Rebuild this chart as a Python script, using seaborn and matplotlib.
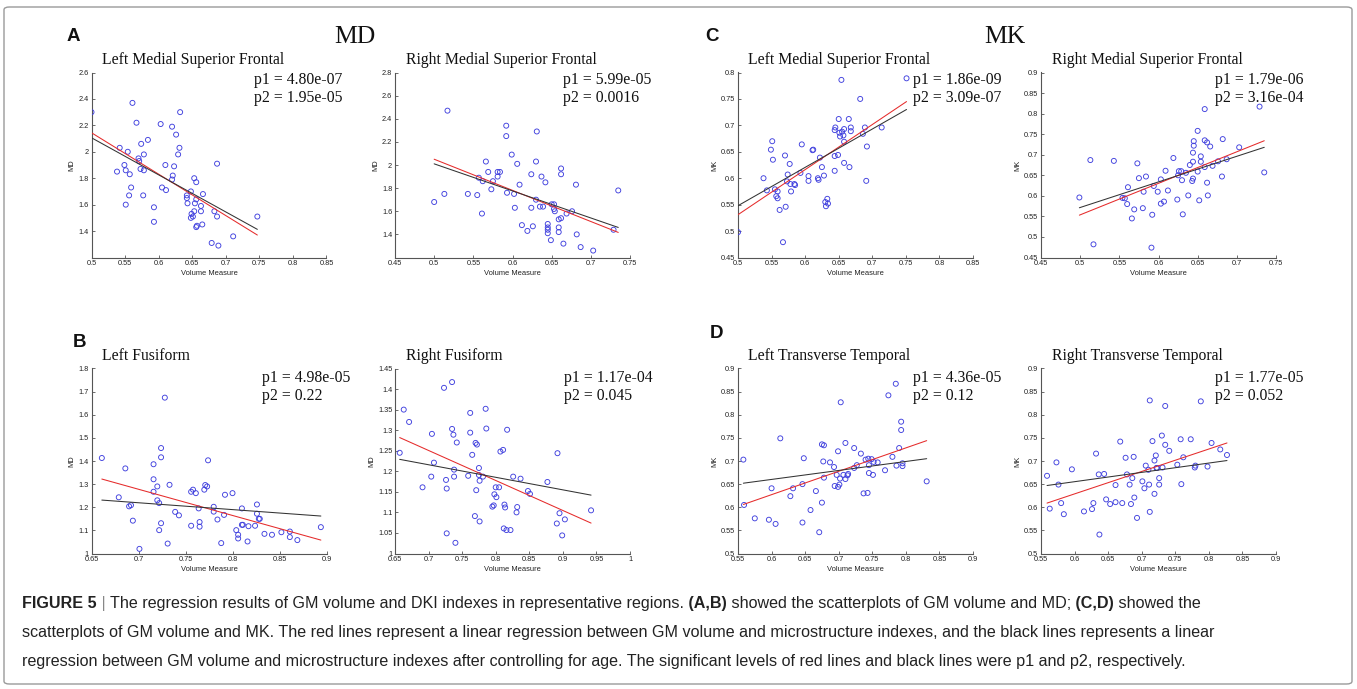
import numpy as np
import matplotlib
matplotlib.use("Agg")
import matplotlib.pyplot as plt
import seaborn as sns
from matplotlib.patches import FancyBboxPatch

# ---------------- data ----------------
a_left_x = [0.500,0.561,0.567,0.542,0.538,0.549,0.551,0.554,0.557,0.559,0.556,0.551,0.570,0.571,0.574,0.578,0.573,0.578,0.584,0.577,
            0.593,0.593,0.603,0.620,0.626,0.632,0.631,0.629,0.623,0.610,0.621,0.620,0.605,0.611,0.687,0.653,0.656,0.642,0.642,0.643,
            0.648,0.666,0.663,0.656,0.654,0.653,0.663,0.649,0.648,0.651,0.657,0.656,0.665,0.683,0.687,0.679,0.689,0.711,0.747]
a_left_y = [2.30,2.37,2.22,2.03,1.85,1.90,1.86,2.00,1.83,1.73,1.67,1.60,1.95,1.93,2.06,1.98,1.87,1.86,2.09,1.67,
            1.58,1.47,2.21,2.19,2.13,2.30,2.03,1.98,1.89,1.90,1.82,1.79,1.73,1.71,1.91,1.80,1.77,1.67,1.65,1.61,
            1.70,1.68,1.59,1.64,1.61,1.55,1.55,1.53,1.50,1.51,1.44,1.43,1.45,1.55,1.51,1.31,1.29,1.36,1.51]
a_left_red = [2.144, 1.370]
a_left_black = [2.106, 1.413]

a_right_x = [0.500,0.513,0.517,0.543,0.555,0.557,0.561,0.562,0.566,0.569,0.573,0.575,0.581,0.581,0.584,0.592,0.592,0.593,0.599,0.602,
             0.606,0.603,0.609,0.612,0.619,0.626,0.624,0.624,0.630,0.630,0.631,0.635,0.637,0.639,0.642,0.645,0.645,0.645,0.645,0.649,
             0.650,0.653,0.653,0.654,0.659,0.659,0.659,0.662,0.662,0.662,0.665,0.669,0.676,0.681,0.682,0.687,0.703,0.729,0.735]
a_right_y = [1.68,1.75,2.47,1.75,1.74,1.89,1.58,1.86,2.03,1.94,1.79,1.86,1.94,1.90,1.94,2.25,2.34,1.76,2.09,1.75,
             2.01,1.63,1.83,1.48,1.43,1.47,1.63,1.92,1.70,2.03,2.29,1.64,1.90,1.64,1.85,1.49,1.46,1.44,1.41,1.35,
             1.66,1.66,1.62,1.60,1.53,1.46,1.42,1.54,1.97,1.92,1.32,1.58,1.60,1.83,1.40,1.29,1.26,1.44,1.78]
a_right_red = [2.050, 1.417]
a_right_black = [2.010, 1.460]

c_left_x = [0.500,0.538,0.543,0.551,0.549,0.552,0.555,0.557,0.559,0.559,0.562,0.567,0.570,0.571,0.573,0.574,0.577,0.578,0.579,0.584,
            0.585,0.593,0.595,0.605,0.605,0.611,0.612,0.619,0.620,0.622,0.625,0.628,0.630,0.633,0.634,0.631,0.644,0.645,0.644,0.644,
            0.649,0.650,0.651,0.652,0.654,0.655,0.657,0.658,0.658,0.658,0.665,0.666,0.668,0.668,0.682,0.686,0.689,0.692,0.691,0.714,0.751]
c_left_y = [0.498,0.600,0.577,0.670,0.654,0.635,0.579,0.566,0.575,0.562,0.540,0.479,0.643,0.546,0.594,0.607,0.627,0.589,0.575,0.589,
            0.587,0.610,0.664,0.604,0.595,0.653,0.654,0.600,0.597,0.639,0.621,0.605,0.555,0.561,0.552,0.547,0.691,0.696,0.614,0.642,
            0.644,0.712,0.686,0.679,0.786,0.688,0.681,0.693,0.669,0.629,0.712,0.621,0.696,0.689,0.750,0.684,0.696,0.660,0.595,0.696,0.789]
c_left_red = [0.531, 0.745]
c_left_black = [0.548, 0.730]

c_right_x = [0.499,0.513,0.517,0.543,0.554,0.557,0.561,0.560,0.566,0.569,0.573,0.575,0.580,0.581,0.584,0.592,0.591,0.594,0.599,0.603,
             0.603,0.607,0.609,0.612,0.619,0.624,0.625,0.626,0.629,0.630,0.631,0.635,0.638,0.640,0.643,0.644,0.644,0.644,0.645,0.645,
             0.650,0.650,0.652,0.654,0.654,0.659,0.659,0.659,0.662,0.662,0.663,0.666,0.669,0.676,0.681,0.682,0.687,0.703,0.729,0.735]
c_right_y = [0.596,0.687,0.482,0.685,0.595,0.594,0.621,0.580,0.545,0.567,0.679,0.643,0.570,0.610,0.647,0.554,0.474,0.624,0.610,0.640,
             0.581,0.586,0.661,0.613,0.692,0.591,0.650,0.660,0.660,0.638,0.555,0.656,0.601,0.675,0.636,0.642,0.705,0.683,0.733,0.722,
             0.758,0.659,0.589,0.696,0.683,0.811,0.670,0.735,0.730,0.632,0.601,0.720,0.673,0.684,0.647,0.738,0.689,0.718,0.817,0.657]
c_right_red = [0.553, 0.734]
c_right_black = [0.571, 0.718]

b_left_x = [0.661,0.679,0.686,0.690,0.692,0.694,0.701,0.716,0.716,0.716,0.720,0.720,0.722,0.722,0.724,0.724,0.724,0.728,0.731,0.733,
            0.739,0.743,0.756,0.756,0.758,0.761,0.764,0.765,0.765,0.770,0.771,0.773,0.774,0.780,0.780,0.784,0.788,0.791,0.792,0.800,
            0.804,0.806,0.806,0.810,0.810,0.811,0.816,0.817,0.824,0.826,0.826,0.828,0.829,0.834,0.842,0.852,0.861,0.861,0.869,0.894]
b_left_y = [1.413,1.243,1.368,1.204,1.209,1.142,1.020,1.267,1.321,1.386,1.290,1.230,1.218,1.101,1.416,1.456,1.131,1.674,1.043,1.297,
            1.180,1.165,1.120,1.267,1.276,1.261,1.195,1.136,1.116,1.276,1.296,1.290,1.403,1.202,1.181,1.147,1.045,1.167,1.254,1.261,
            1.101,1.081,1.065,1.195,1.124,1.124,1.052,1.118,1.120,1.212,1.172,1.150,1.150,1.085,1.081,1.092,1.095,1.071,1.058,1.114]
b_left_red = [1.322, 1.058]
b_left_black = [1.231, 1.162]

b_right_x = [0.657,0.663,0.671,0.691,0.704,0.705,0.708,0.723,0.726,0.727,0.727,0.735,0.735,0.737,0.738,0.738,0.740,0.742,0.759,0.762,
             0.762,0.765,0.769,0.770,0.771,0.772,0.775,0.775,0.776,0.776,0.781,0.785,0.786,0.795,0.797,0.798,0.800,0.801,0.805,0.807,
             0.811,0.817,0.812,0.813,0.814,0.816,0.822,0.826,0.831,0.832,0.837,0.848,0.851,0.877,0.891,0.892,0.895,0.899,0.903,0.942]
b_right_y = [1.245,1.350,1.320,1.161,1.187,1.291,1.221,1.403,1.179,1.158,1.049,1.417,1.303,1.289,1.204,1.187,1.026,1.270,1.189,1.342,
             1.294,1.240,1.091,1.269,1.154,1.265,1.208,1.191,1.078,1.177,1.187,1.352,1.304,1.114,1.117,1.144,1.161,1.137,1.161,1.248,
             1.252,1.301,1.061,1.119,1.112,1.057,1.057,1.187,1.100,1.113,1.182,1.152,1.145,1.174,1.073,1.244,1.098,1.044,1.083,1.105]
b_right_red = [1.282, 1.074]
b_right_black = [1.229, 1.142]

d_left_x = [0.558,0.559,0.575,0.596,0.600,0.606,0.613,0.628,0.632,0.646,0.646,0.648,0.658,0.666,0.671,0.675,0.675,0.678,0.677,0.678,
            0.687,0.693,0.694,0.697,0.699,0.699,0.701,0.702,0.703,0.707,0.710,0.710,0.713,0.714,0.723,0.723,0.727,0.733,0.737,0.740,
            0.743,0.744,0.745,0.745,0.749,0.751,0.752,0.758,0.769,0.774,0.780,0.785,0.786,0.790,0.793,0.793,0.795,0.795,0.831]
d_left_y = [0.703,0.605,0.576,0.573,0.641,0.564,0.749,0.624,0.641,0.650,0.567,0.706,0.594,0.635,0.546,0.610,0.736,0.734,0.699,0.664,
            0.697,0.687,0.646,0.670,0.721,0.644,0.649,0.662,0.827,0.670,0.739,0.661,0.669,0.672,0.728,0.685,0.691,0.716,0.630,0.703,
            0.631,0.705,0.691,0.674,0.704,0.670,0.698,0.697,0.680,0.842,0.709,0.867,0.690,0.728,0.785,0.767,0.695,0.689,0.656]
d_left_red = [0.606, 0.744]
d_left_black = [0.652, 0.705]

d_right_x = [0.559,0.563,0.573,0.576,0.580,0.584,0.596,0.614,0.626,0.628,0.632,0.636,0.637,0.644,0.647,0.653,0.661,0.661,0.668,0.671,
             0.676,0.678,0.682,0.684,0.686,0.688,0.689,0.693,0.701,0.704,0.706,0.710,0.711,0.712,0.712,0.716,0.719,0.719,0.721,0.722,
             0.723,0.726,0.726,0.730,0.731,0.735,0.735,0.741,0.753,0.758,0.759,0.762,0.773,0.779,0.780,0.788,0.798,0.804,0.817,0.827]
d_right_y = [0.668,0.597,0.697,0.649,0.609,0.585,0.682,0.591,0.596,0.609,0.716,0.671,0.541,0.672,0.617,0.607,0.648,0.611,0.742,0.609,
             0.707,0.671,0.649,0.607,0.663,0.709,0.621,0.577,0.656,0.641,0.690,0.681,0.649,0.831,0.590,0.743,0.701,0.629,0.712,0.685,
             0.685,0.663,0.649,0.755,0.686,0.819,0.735,0.722,0.692,0.747,0.650,0.708,0.747,0.686,0.690,0.829,0.688,0.739,0.725,0.713]
d_right_red = [0.609, 0.739]
d_right_black = [0.647, 0.701]

titles = ["Left Medial Superior Frontal", "Right Medial Superior Frontal",
          "Left Medial Superior Frontal", "Right Medial Superior Frontal",
          "Left Fusiform", "Right Fusiform",
          "Left Transverse Temporal", "Right Transverse Temporal"]
ylabels = ["MD", "MD", "MK", "MK", "MD", "MD", "MK", "MK"]
p1_labels = ["4.80e-07", "5.99e-05", "1.86e-09", "1.79e-06", "4.98e-05", "1.17e-04", "4.36e-05", "1.77e-05"]
p2_labels = ["1.95e-05", "0.0016", "3.09e-07", "3.16e-04", "0.22", "0.045", "0.12", "0.052"]
xlims = [(0.5, 0.85), (0.45, 0.75), (0.5, 0.85), (0.45, 0.75), (0.65, 0.9), (0.65, 1.0), (0.55, 0.9), (0.55, 0.9)]
ylims = [(1.2, 2.6), (1.2, 2.8), (0.45, 0.8), (0.45, 0.9), (1.0, 1.8), (1.0, 1.45), (0.5, 0.9), (0.5, 0.9)]
xsteps = [0.05] * 8
ysteps = [0.2, 0.2, 0.05, 0.05, 0.1, 0.05, 0.05, 0.05]
ytick_start = [1.4, 1.4, 0.45, 0.45, 1.0, 1.0, 0.5, 0.5]
panel_letters = ["A", "B", "C", "D"]
group_titles = ["MD", "MK"]
xlabel_text = "Volume Measure"

xs = [a_left_x, a_right_x, c_left_x, c_right_x, b_left_x, b_right_x, d_left_x, d_right_x]
ys = [a_left_y, a_right_y, c_left_y, c_right_y, b_left_y, b_right_y, d_left_y, d_right_y]
reds = [a_left_red, a_right_red, c_left_red, c_right_red, b_left_red, b_right_red, d_left_red, d_right_red]
blacks = [a_left_black, a_right_black, c_left_black, c_right_black, b_left_black, b_right_black, d_left_black, d_right_black]

caption_lines = [
    [("FIGURE 5", True), (" | ", False), ("The regression results of GM volume and DKI indexes in representative regions.", False),
     (" (A,B)", True), (" showed the scatterplots of GM volume and MD;", False), (" (C,D)", True), (" showed the", False)],
    [("scatterplots of GM volume and MK. The red lines represent a linear regression between GM volume and microstructure indexes, and the black lines represents a linear", False)],
    [("regression between GM volume and microstructure indexes after controlling for age. The significant levels of red lines and black lines were p1 and p2, respectively.", False)],
]

# ---------------- style ----------------
sns.set_theme(style="white")
plt.rcParams['font.family'] = ['Liberation Sans', 'DejaVu Sans']
SERIF = ['Liberation Serif', 'DejaVu Serif']

W, H = 1357, 689
fig = plt.figure(figsize=(W / 100, H / 100), dpi=100)

def fx(px):
    return px / W

def fy(py):
    return 1 - py / H

col_left = [91.5, 395, 738, 1041]
ax_w = 235
row_top = [72.5, 368.5]
ax_h = 185
p_off = [163, 168, 175, 174, 170, 169, 175, 174]

MARK = '#4040de'
AXC = '#555555'

def fmt(v):
    return format(round(v, 4), 'g')

for i in range(8):
    r = i // 4
    c = i % 4
    left = col_left[c]
    top = row_top[r]
    ax = fig.add_axes([fx(left), fy(top + ax_h), fx(ax_w), ax_h / H])
    sns.scatterplot(x=xs[i], y=ys[i], ax=ax, marker='o', s=13, color=MARK,
                    facecolor='none', edgecolor=MARK, linewidth=0.65, zorder=3)
    xe = [min(xs[i]), max(xs[i])]
    sns.lineplot(x=xe, y=reds[i], ax=ax, color='#e52b2b', linewidth=0.75, zorder=4)
    sns.lineplot(x=xe, y=blacks[i], ax=ax, color='#333333', linewidth=0.75, zorder=4)
    ax.set_xlim(*xlims[i])
    ax.set_ylim(*ylims[i])
    xt = np.arange(xlims[i][0], xlims[i][1] + 1e-9, xsteps[i])
    yt = np.arange(ytick_start[i], ylims[i][1] + 1e-9, ysteps[i])
    ax.set_xticks(xt)
    ax.set_xticklabels([fmt(v) for v in xt])
    ax.set_yticks(yt)
    ax.set_yticklabels([fmt(v) for v in yt])
    for s in ['top', 'right']:
        ax.spines[s].set_visible(False)
    for s in ['left', 'bottom']:
        ax.spines[s].set_color(AXC)
        ax.spines[s].set_linewidth(0.8)
    ax.tick_params(direction='in', length=2.5, width=0.6, color=AXC, labelsize=5.3,
                   labelcolor='#222222', pad=2, left=True, bottom=True)
    ax.set_xlabel(xlabel_text, fontsize=5.4, color='#222222', labelpad=2)
    ax.set_ylabel(ylabels[i], fontsize=5.4, color='#222222', labelpad=2)
    ax.set_facecolor('white')
    # title
    tb = top - 8.5
    fig.text(fx(left + 10.5), fy(tb), titles[i], family=SERIF, fontsize=11.3,
             ha='left', va='baseline', color='#111111')
    # p values
    fig.text(fx(left + p_off[i]), fy(top + 12 + 2 * r), "p1 = " + p1_labels[i], family=SERIF,
             fontsize=11.3, ha='left', va='baseline', color='#111111')
    fig.text(fx(left + p_off[i]), fy(top + 29 + 2 * r), "p2 = " + p2_labels[i], family=SERIF,
             fontsize=11.3, ha='left', va='baseline', color='#111111')

# panel letters and group titles
letter_pos = [(67, 41), (73, 347), (705, 41), (710, 338)]
for (lx, ly), L in zip(letter_pos, panel_letters):
    fig.text(fx(lx), fy(ly), L, fontsize=13.5, fontweight='bold', ha='left', va='baseline', color='#111111')
group_pos = [(334, 43), (984, 43)]
for (gx, gy), G in zip(group_pos, group_titles):
    fig.text(fx(gx), fy(gy), G, family=SERIF, fontsize=18.5, ha='left', va='baseline', color='#111111')

# caption
renderer = fig.canvas.get_renderer()
cap_base = [608, 637, 666]
for line, yb in zip(caption_lines, cap_base):
    x = 22
    for txt, bold in line:
        col = '#888888' if txt.strip() == '|' else '#222222'
        t = fig.text(fx(x), fy(yb), txt, fontsize=11.6, fontweight='bold' if bold else 'normal',
                     ha='left', va='baseline', color=col)
        bb = t.get_window_extent(renderer=renderer)
        x += bb.width

# outer border
border = FancyBboxPatch((fx(4), fy(684)), fx(1348), (684 - 7) / H,
                        boxstyle="round,pad=0,rounding_size=0.004", transform=fig.transFigure,
                        fill=False, edgecolor='#9a9a9a', linewidth=1.0)
fig.patches.append(border)

fig.savefig("out.png", dpi=100)
